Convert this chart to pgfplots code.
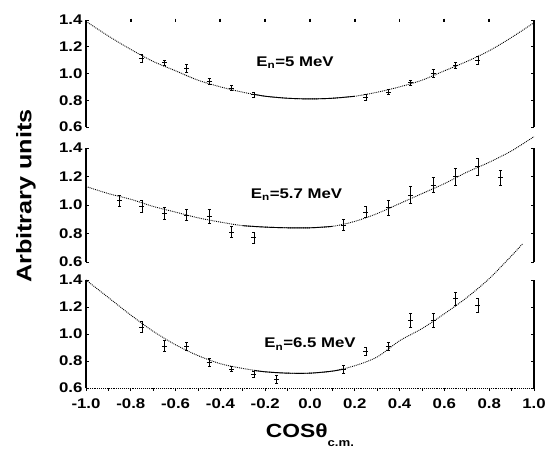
\documentclass[border=0pt]{standalone}
\usepackage{fontspec}
\setmainfont[FakeStretch=1.2]{Liberation Sans}
\usepackage{pgfplots}
\pgfplotsset{compat=1.18}
\tikzset{lab/.style={font=\bfseries\fontsize{14}{14}\selectfont}}
\begin{document}
\begin{tikzpicture}
\path[use as bounding box] (-86pt,0pt) rectangle (461pt,-457pt);
\pgfplotsset{
  panel/.style={scale only axis, width=448pt, xmin=-1, xmax=1, ymin=0.6, ymax=1.4,
    ytick={0.6,0.8,1.0,1.2,1.4},
    yticklabel style={/pgf/number format/fixed,/pgf/number format/fixed zerofill,/pgf/number format/precision=1},
    xticklabel style={/pgf/number format/fixed,/pgf/number format/fixed zerofill,/pgf/number format/precision=1},
    tick label style={font=\bfseries\fontsize{14}{14}\selectfont},
    /pgf/number format/assume math mode=true,
    clip=false, axis y line*=box,
    y axis line style={line width=1.1pt, -},
    ytick style={black, line width=0.8pt}, major tick length=3pt,
    ytick align=inside},
  curve/.style={black, densely dotted, line width=0.9pt, smooth, no marks},
  solidpart/.style={black, line width=0.9pt, smooth, no marks},
  pts/.style={only marks, mark=+, mark size=2.5pt, black, mark options={line width=0.9pt},
    error bars/.cd, y dir=both, y explicit,
    error bar style={black, line width=0.9pt},
    error mark options={black, mark size=1.5pt, rotate=90, line width=0.9pt}}
}
% Panel 1: En = 5 MeV
\begin{axis}[panel, at={(0pt,-127pt)}, anchor=south west, height=107pt,
  axis x line*=top, x axis line style={draw=none},
  xtick={-0.8,-0.6,-0.4,-0.2,0,0.2,0.4,0.6,0.8}, xticklabels={},
  xtick style={draw=black, line width=1.8pt}, xtick align=center]
\addplot[curve] coordinates {(-1,1.39) (-0.9,1.28) (-0.8,1.18) (-0.7,1.09) (-0.6,1.02) (-0.5,0.95) (-0.4,0.90) (-0.3,0.86) (-0.2,0.83) (-0.1,0.815) (0,0.81) (0.1,0.815) (0.2,0.83) (0.3,0.86) (0.4,0.90) (0.5,0.95) (0.6,1.02) (0.7,1.09) (0.8,1.17) (0.9,1.27) (1.0,1.38)};
\addplot[solidpart] coordinates {(-0.25,0.845) (-0.2,0.83) (-0.1,0.815) (0,0.81) (0.1,0.815) (0.2,0.83)};
\addplot[pts] table[x=x, y=y, y error=e] {
x y e
-0.75 1.11 0.03
-0.65 1.08 0.02
-0.55 1.04 0.03
-0.45 0.94 0.02
-0.35 0.89 0.02
-0.25 0.84 0.02
0.25 0.82 0.02
0.35 0.86 0.02
0.45 0.93 0.02
0.55 1.00 0.03
0.65 1.06 0.02
0.75 1.10 0.03
};
\node[lab] at (axis cs:-0.067,1.08) {E\textsubscript{n}=5 MeV};
\end{axis}
% Panel 2: En = 5.7 MeV
\begin{axis}[panel, at={(0pt,-262pt)}, anchor=south west, height=114pt,
  axis x line=none]
\addplot[curve] coordinates {(-1,1.13) (-0.9,1.08) (-0.8,1.04) (-0.7,0.99) (-0.6,0.95) (-0.5,0.91) (-0.4,0.88) (-0.3,0.855) (-0.2,0.845) (-0.1,0.84) (0,0.84) (0.1,0.85) (0.2,0.885) (0.3,0.94) (0.4,1.01) (0.5,1.08) (0.6,1.15) (0.7,1.23) (0.8,1.30) (0.9,1.38) (1.0,1.48)};
\addplot[solidpart] coordinates {(-0.3,0.855) (-0.2,0.845) (-0.1,0.84) (0,0.84) (0.1,0.85)};
\addplot[pts] table[x=x, y=y, y error=e] {
x y e
-0.85 1.03 0.04
-0.75 0.99 0.04
-0.65 0.94 0.04
-0.55 0.93 0.04
-0.45 0.92 0.05
-0.35 0.81 0.04
-0.25 0.77 0.04
0.15 0.86 0.04
0.25 0.95 0.04
0.35 0.98 0.05
0.45 1.07 0.06
0.55 1.14 0.05
0.65 1.20 0.06
0.75 1.27 0.06
0.85 1.19 0.05
};
\node[lab] at (axis cs:-0.06,1.07) {E\textsubscript{n}=5.7 MeV};
\end{axis}
% Panel 3: En = 6.5 MeV
\begin{axis}[panel, at={(0pt,-388pt)}, anchor=south west, height=108pt,
  axis x line*=bottom, x axis line style={densely dotted, line width=0.9pt, -},
  xtick={-1,-0.8,-0.6,-0.4,-0.2,0,0.2,0.4,0.6,0.8,1.0},
  minor x tick num=1, xtick style={black, line width=0.8pt}, xtick align=outside,
  xticklabel style={yshift=-4pt},
  xlabel={\bfseries\fontsize{19}{19}\selectfont COSθ\raisebox{-9pt}{\fontsize{11}{11}\selectfont c.m.}},
  xlabel style={yshift=-8pt}]
\addplot[curve] coordinates {(-1,1.40) (-0.9,1.27) (-0.8,1.14) (-0.7,1.02) (-0.6,0.92) (-0.5,0.84) (-0.4,0.78) (-0.3,0.745) (-0.2,0.72) (-0.1,0.71) (0,0.71) (0.1,0.725) (0.2,0.765) (0.3,0.83) (0.4,0.95) (0.5,1.04) (0.6,1.15) (0.7,1.27) (0.8,1.41) (0.9,1.58) (0.95,1.67)};
\addplot[solidpart] coordinates {(-0.25,0.73) (-0.2,0.72) (-0.1,0.71) (0,0.71) (0.1,0.725) (0.15,0.74)};
\addplot[pts] table[x=x, y=y, y error=e] {
x y e
-0.75 1.05 0.04
-0.65 0.91 0.04
-0.55 0.91 0.03
-0.45 0.79 0.03
-0.35 0.74 0.02
-0.25 0.70 0.02
-0.15 0.66 0.03
0.15 0.74 0.03
0.25 0.87 0.03
0.35 0.91 0.03
0.45 1.10 0.05
0.55 1.10 0.05
0.65 1.26 0.05
0.75 1.21 0.05
};
\node[lab] at (axis cs:-0.0,0.925) {E\textsubscript{n}=6.5 MeV};
\end{axis}
\node[rotate=90, font=\bfseries\fontsize{21}{21}\selectfont] at (-60pt,-196pt) {Arbitrary units};
\end{tikzpicture}
\end{document}
